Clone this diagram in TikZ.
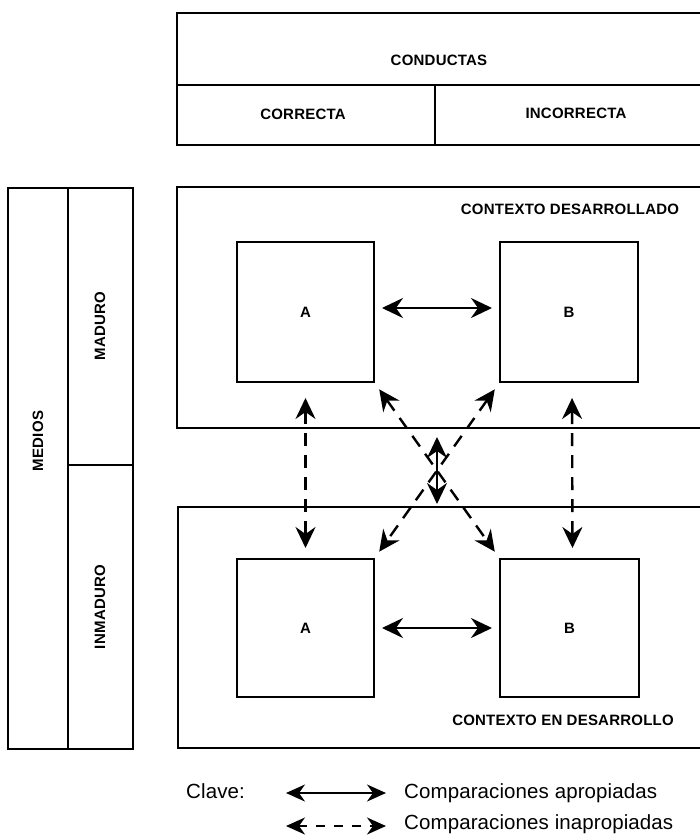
\documentclass[tikz,border=0pt]{standalone}
\usepackage{fontspec}
\setmainfont{Liberation Sans}
\newfontfamily\capsfont[LetterSpace=1.5]{Liberation Sans}
\newfontfamily\keyfont[LetterSpace=0.5]{Liberation Sans}
\usetikzlibrary{arrows.meta}

\tikzset{
  frame/.style={draw, line width=2.2pt, inner sep=0pt, outer sep=0pt},
  rule/.style={line width=2.2pt},
  caps/.style={font=\capsfont\bfseries\fontsize{15}{18}\selectfont, inner sep=0pt},
  keytext/.style={font=\keyfont\fontsize{20.5}{24}\selectfont, inner sep=0pt, anchor=base west},
  bighead/.style={Stealth[length=21pt, width=20pt, inset=7pt]},
  goodcmp/.style={line width=2.4pt, {Stealth[length=21pt, width=20pt, inset=7pt]}-{Stealth[length=21pt, width=20pt, inset=7pt]}},
  badcmp/.style={goodcmp, dash pattern=on 13pt off 9pt},
  goodkey/.style={line width=1.6pt, {Stealth[length=19pt, width=17pt, inset=6pt]}-{Stealth[length=19pt, width=17pt, inset=6pt]}},
  badkey/.style={goodkey, dash pattern=on 9pt off 9pt},
}

\begin{document}
\begin{tikzpicture}[x=1pt, y=-1pt]
  \useasboundingbox (0,0) rectangle (699,835);

  % behaviour table across the top
  \node[frame, anchor=north west, minimum width=524pt, minimum height=132pt] (tab) at (177,13) {};
  \draw[rule] (177,85) -- (701,85);
  \draw[rule] (435,85) -- (435,145);
  \node[caps] (cond) at (439,60) {CONDUCTAS};
  \node[caps] (corr) at (303,114) {CORRECTA};
  \node[caps] (inco) at (576,113) {INCORRECTA};

  % means column on the left
  \node[frame, anchor=north west, minimum width=125pt, minimum height=561pt] (col) at (8,188) {};
  \draw[rule] (68,188) -- (68,749);
  \draw[rule] (68,465) -- (133,465);
  \node[caps, rotate=90] (med) at (38,441) {MEDIOS};
  \node[caps, rotate=90] (mad) at (100,326) {MADURO};
  \node[caps, rotate=90] (inm) at (100,607) {INMADURO};

  % the two contexts
  \node[frame, anchor=north west, minimum width=524pt, minimum height=241pt] (uctx) at (177,187) {};
  \node[frame, anchor=north west, minimum width=523pt, minimum height=241pt] (lctx) at (178,507) {};
  \node[caps] (ulab) at (570,209) {CONTEXTO DESARROLLADO};
  \node[caps] (llab) at (563,720) {CONTEXTO EN DESARROLLO};

  % A and B in each context
  \node[frame, caps, minimum width=137pt, minimum height=140pt] (uA) at (305.5,312) {A};
  \node[frame, caps, minimum width=138pt, minimum height=140pt] (uB) at (569,312) {B};
  \node[frame, caps, minimum width=137pt, minimum height=138pt] (lA) at (305.5,628) {A};
  \node[frame, caps, minimum width=139pt, minimum height=138pt] (lB) at (569.5,628) {B};

  % appropriate comparisons
  \draw[goodcmp, shorten <=8pt, shorten >=8pt] ([yshift=4pt]uA.east) -- ([yshift=4pt]uB.west);
  \draw[goodcmp, shorten <=8pt, shorten >=8pt] (lA.east) -- (lB.west);
  \coordinate (mtop) at (437,428);
  \coordinate (mbot) at (437,507);
  \draw[goodcmp, shorten <=9pt, shorten >=3pt] (mtop) -- (mbot);

  % inappropriate comparisons
  \draw[badcmp, shorten <=16pt, shorten >=11pt] (uA.south) -- (lA.north);
  \draw[badcmp, shorten <=16pt, shorten >=11pt] ([xshift=3pt]uB.south) -- ([xshift=3pt]lB.north);
  \draw[badcmp, shorten <=9pt, shorten >=9pt] (uA.south east) -- (lB.north west);
  \draw[badcmp, shorten <=9pt, shorten >=9pt] (uB.south west) -- (lA.north east);

  % key
  \node[keytext] (clave) at (186,798.5) {Clave:};
  \coordinate (k1a) at (286,793);
  \coordinate (k1b) at (386,793);
  \coordinate (k2a) at (286,826);
  \coordinate (k2b) at (386,826);
  \draw[goodkey] (k1a) -- (k1b);
  \draw[badkey] (k2a) -- (k2b);
  \node[keytext] (kgood) at (404,798.5) {Comparaciones apropiadas};
  \node[keytext] (kbad) at (404,829) {Comparaciones inapropiadas};
\end{tikzpicture}
\end{document}
